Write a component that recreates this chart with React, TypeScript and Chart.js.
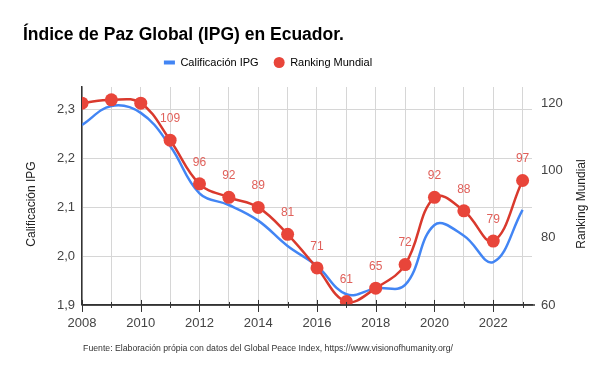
import React, { useEffect, useRef } from "react";
import { Chart, registerables } from "chart.js";

Chart.register(...registerables);

const TITLE = "Índice de Paz Global (IPG) en Ecuador.";
const FOOTER = "Fuente: Elaboración própia con datos del Global Peace Index, https://www.visionofhumanity.org/";
const years = [2008, 2009, 2010, 2011, 2012, 2013, 2014, 2015, 2016, 2017, 2018, 2019, 2020, 2021, 2022, 2023];
const ipg = [2.269, 2.308, 2.294, 2.226, 2.129, 2.105, 2.073, 2.021, 1.98, 1.922, 1.934, 1.941, 2.064, 2.042, 1.988, 2.095];
const ranking = [120, 121, 120, 109, 96, 92, 89, 81, 71, 61, 65, 72, 92, 88, 79, 97];
const labeledFrom = 2011;
const seriesNames = ["Calificación IPG", "Ranking Mundial"];

const BLUE = "#4285f4";
const RED_LINE = "#d9392d";
const RED_PT = "#e8453a";
const LABEL_RED = "#e0605a";
const FONT = "'Liberation Sans', Arial, sans-serif";

export default function App() {
  const ref = useRef<HTMLCanvasElement>(null);
  useEffect(() => {
    document.body.style.margin = "0";
    const canvas = ref.current!;
    const shiftPlugin = {
      id: "shiftBoxes",
      afterLayout(chart: any) {
        chart.boxes.forEach((b: any) => {
          if (b === chart.legend) {
            b.left = 0;
            b.right = 536;
            b.top -= 9;
            b.bottom -= 9;
          } else if (b.options && b.options.text === FOOTER) {
            b.left = 0;
            b.right = 536;
          }
        });
      },
    };
    const labelPlugin = {
      id: "pointLabels",
      afterDatasetsDraw(chart: any) {
        const meta = chart.getDatasetMeta(0);
        const ctx = chart.ctx;
        ctx.save();
        ctx.font = `12px ${FONT}`;
        ctx.fillStyle = LABEL_RED;
        ctx.textAlign = "center";
        ctx.textBaseline = "middle";
        meta.data.forEach((el: any, i: number) => {
          if (years[i] >= labeledFrom) {
            ctx.fillText(String(ranking[i]), el.x, el.y - 21.5);
          }
        });
        ctx.restore();
      },
      afterDraw(chart: any) {
        const ctx = chart.ctx;
        const area = chart.chartArea;
        const cy = (area.top + area.bottom) / 2 + 8;
        ctx.save();
        // x axis line extension and crossing ticks
        ctx.strokeStyle = "#333";
        ctx.lineWidth = 1.5;
        ctx.beginPath();
        ctx.moveTo(area.left, area.bottom);
        ctx.lineTo(area.right + 3, area.bottom);
        ctx.stroke();
        ctx.lineWidth = 1;
        const xs = chart.scales.x;
        years.forEach((yr) => {
          const px = Math.round(xs.getPixelForValue(yr)) + 0.5;
          const major = yr % 2 === 0;
          ctx.beginPath();
          ctx.moveTo(px, area.bottom - (major ? 5 : 3));
          ctx.lineTo(px, area.bottom + (major ? 7 : 3));
          ctx.stroke();
        });
        // axis titles
        ctx.font = `12px ${FONT}`;
        ctx.fillStyle = "#222";
        ctx.textAlign = "center";
        ctx.textBaseline = "middle";
        const pos = [
          { x: 32, t: seriesNames[0] },
          { x: 582, t: seriesNames[1] },
        ];
        pos.forEach((p) => {
          ctx.save();
          ctx.translate(p.x, cy);
          ctx.rotate(-Math.PI / 2);
          ctx.fillText(p.t, 0, 0);
          ctx.restore();
        });
        ctx.restore();
      },
    };
    const chart = new Chart(canvas, {
      type: "line",
      data: {
        datasets: [
          {
            label: seriesNames[1],
            data: years.map((x, i) => ({ x, y: ranking[i] })),
            yAxisID: "y1",
            borderColor: RED_LINE,
            backgroundColor: RED_PT,
            borderWidth: 2.5,
            pointRadius: 6.5,
            pointBorderWidth: 0,
            pointBackgroundColor: RED_PT,
            tension: 0.4,
          },
          {
            label: seriesNames[0],
            data: years.map((x, i) => ({ x, y: ipg[i] })),
            yAxisID: "y",
            borderColor: BLUE,
            backgroundColor: BLUE,
            borderWidth: 2.5,
            pointRadius: 0,
            tension: 0.4,
          },
        ],
      },
      options: {
        responsive: false,
        animation: false,
        layout: { padding: { left: 23, right: 0, top: 0, bottom: 0 } },
        plugins: {
          title: {
            display: true,
            text: TITLE,
            align: "start",
            color: "#000",
            font: { family: FONT, size: 17.5, weight: "bold" },
            padding: { top: 25, bottom: 5 },
          },
          subtitle: {
            display: true,
            text: FOOTER,
            position: "bottom",
            color: "#333",
            font: { family: FONT, size: 8.7, weight: "normal" },
            padding: { top: 8.3, bottom: 23.3 },
          },
          legend: {
            display: true,
            position: "top",
            labels: {
              usePointStyle: true,
              boxHeight: 7.8,
              padding: 15,
              color: "#444",
              font: { family: FONT, size: 11 },
              generateLabels: () => [
                {
                  text: seriesNames[0],
                  fillStyle: BLUE,
                  strokeStyle: BLUE,
                  lineWidth: 4,
                  pointStyle: "line",
                  datasetIndex: 1,
                  hidden: false,
                },
                {
                  text: seriesNames[1],
                  fillStyle: RED_PT,
                  strokeStyle: RED_PT,
                  lineWidth: 0,
                  pointStyle: "circle",
                  datasetIndex: 0,
                  hidden: false,
                },
              ],
            },
          },
          tooltip: { enabled: false },
        },
        scales: {
          x: {
            type: "linear",
            min: 2008,
            max: 2023.32,
            afterFit: (s: any) => {
              s.height = 30;
            },
            border: { color: "#333", width: 1.5 },
            grid: { color: "#d6d6d6", drawTicks: false },
            ticks: {
              stepSize: 1,
              autoSkip: false,
              includeBounds: false,
              maxRotation: 0,
              padding: 11,
              color: "#444",
              font: { family: FONT, size: 13 },
              callback: (v: any) => (Number(v) % 2 === 0 ? String(v) : ""),
            },
          },
          y: {
            position: "left",
            min: 1.9,
            max: 2.347,
            afterFit: (s: any) => {
              s.width = 59;
            },
            border: { color: "#333", width: 1.5 },
            grid: { color: "#d6d6d6", drawTicks: false },
            title: { display: false },
            ticks: {
              stepSize: 0.1,
              includeBounds: false,
              padding: 7,
              color: "#444",
              font: { family: FONT, size: 13 },
              callback: (v: any) => Number(v).toFixed(1).replace(".", ","),
            },
          },
          y1: {
            position: "right",
            min: 60,
            max: 124.8,
            afterFit: (s: any) => {
              s.width = 68;
            },
            border: { display: false },
            grid: { display: false, drawTicks: false },
            title: { display: false },
            ticks: {
              stepSize: 20,
              includeBounds: false,
              padding: 9,
              color: "#444",
              font: { family: FONT, size: 13 },
            },
          },
        },
      },
      plugins: [shiftPlugin, labelPlugin],
    } as any);
    return () => chart.destroy();
  }, []);
  return (
    <div style={{ width: 600, height: 377, position: "relative" }}>
      <canvas ref={ref} width={600} height={377} style={{ width: 600, height: 377, display: "block" }} />
    </div>
  );
}
